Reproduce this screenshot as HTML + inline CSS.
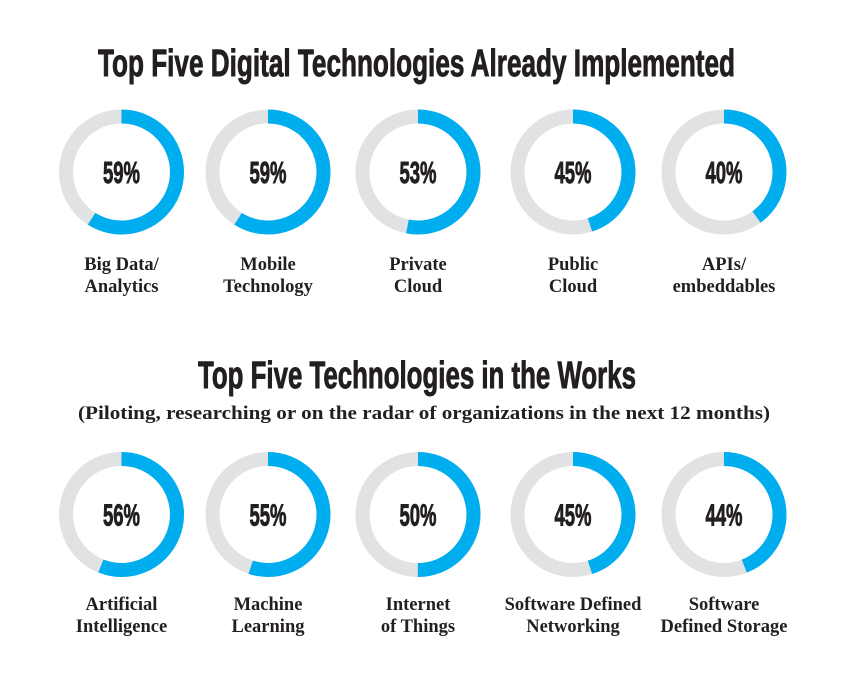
<!DOCTYPE html>
<html><head><meta charset="utf-8"><style>
html,body{margin:0;padding:0;background:#fff;}
svg{display:block;}
.t{font-family:"Liberation Sans",sans-serif;font-weight:bold;fill:#231f20;}
.h{stroke:#231f20;stroke-width:0.9;}
.l{font-family:"Liberation Serif",serif;font-weight:bold;fill:#231f20;font-size:18.5px;}
</style></head><body>
<svg id="chart" width="850" height="687" viewBox="0 0 850 687">
<text class="t h" x="98" y="76" font-size="38" textLength="637" lengthAdjust="spacingAndGlyphs">Top Five Digital Technologies Already Implemented</text>
<text class="t h" x="198" y="388" font-size="38" textLength="438" lengthAdjust="spacingAndGlyphs">Top Five Technologies in the Works</text>
<text class="l" x="424" y="419" text-anchor="middle" textLength="692" lengthAdjust="spacingAndGlyphs">(Piloting, researching or on the radar of organizations in the next 12 months)</text>
<g id="donuts"></g>
</svg>
<script>
const row1Values = [59, 59, 53, 45, 40];
const row1Labels = [["Big Data/","Analytics"],["Mobile","Technology"],["Private","Cloud"],["Public","Cloud"],["APIs/","embeddables"]];
const row2Values = [56, 55, 50, 45, 44];
const row2Labels = [["Artificial","Intelligence"],["Machine","Learning"],["Internet","of Things"],["Software Defined","Networking"],["Software","Defined Storage"]];

const NS = "http://www.w3.org/2000/svg";
const g = document.getElementById("donuts");
const xs = [121.5, 268, 418, 573, 724];
const R = 55.5, W = 14, C = 2 * Math.PI * R;
function mk(tag, attrs){const e=document.createElementNS(NS,tag);for(const k in attrs)e.setAttribute(k,attrs[k]);return e;}
function row(values, labels, cy, ly){
  values.forEach((v,i)=>{
    const cx = xs[i];
    const bg = mk("circle",{cx:cx,cy:cy,r:R,fill:"none",stroke:"#e1e2e3","stroke-width":W});
    
    
    g.appendChild(bg);
    const arc = mk("circle",{cx:cx,cy:cy,r:R,fill:"none",stroke:"#00adee","stroke-width":W,
      "stroke-dasharray":(C*v/100)+" "+C,transform:"rotate(-90 "+cx+" "+cy+")"});
    
    
    g.appendChild(arc);
    const t = mk("text",{x:cx,y:cy+11,"text-anchor":"middle",class:"t h","font-size":"31",textLength:"37",lengthAdjust:"spacingAndGlyphs"});
    t.textContent = v + "%";
    
    
    g.appendChild(t);
    labels[i].forEach((s,j)=>{
      const l = mk("text",{x:cx,y:ly+j*22,"text-anchor":"middle",class:"l"});
      l.textContent = s;
      
      
      g.appendChild(l);
    });
  });
}
row(row1Values, row1Labels, 172, 270);
row(row2Values, row2Labels, 514.5, 610);
</script>
</body></html>
